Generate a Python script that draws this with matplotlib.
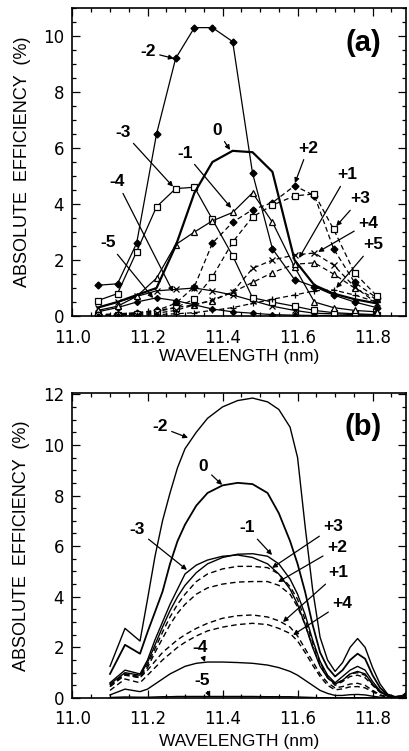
import matplotlib
matplotlib.use("Agg")
import matplotlib.pyplot as plt
from matplotlib.ticker import MultipleLocator

plt.rcParams['font.family'] = ['DejaVu Sans']

# ---- panel (a): measured efficiencies -------------------------------------
wl_a = [11.067, 11.120, 11.171, 11.224, 11.275, 11.325, 11.373, 11.427,
        11.480, 11.533, 11.592, 11.645, 11.696, 11.752, 11.811]

a_m5 = [0.15, 0.30, 0.50, 0.65, 0.55, 0.40, 0.25, 0.15, 0.10, 0.05, 0.03, 0.02, 0.02, 0.01, 0.01]
a_m4 = [0.30, 0.50, 0.70, 0.90, 0.95, 1.00, 0.90, 0.75, 0.55, 0.35, 0.20, 0.10, 0.08, 0.05, 0.03]
a_m3 = [0.55, 0.80, 2.30, 3.90, 4.55, 4.60, 3.45, 2.15, 0.65, 0.50, 0.35, 0.20, 0.12, 0.08, 0.05]
a_m2 = [1.10, 1.15, 2.60, 6.50, 9.20, 10.30, 10.30, 9.80, 5.10, 2.40, 1.30, 1.05, 0.75, 0.50, 0.30]
a_m1 = [0.20, 0.35, 0.70, 1.35, 2.55, 3.00, 3.40, 3.70, 4.40, 3.35, 1.75, 0.50, 0.30, 0.20, 0.15]
a_0 = [0.30, 0.50, 0.75, 1.00, 2.50, 4.40, 5.50, 5.90, 5.85, 5.15, 2.00, 1.10, 0.80, 0.60, 0.45]
a_p1 = [0.05, 0.08, 0.12, 0.20, 0.30, 0.40, 0.55, 0.85, 1.20, 1.55, 1.85, 1.90, 1.50, 1.00, 0.60]
a_p2 = [0.02, 0.05, 0.10, 0.20, 0.45, 1.05, 2.60, 3.35, 3.80, 4.05, 4.65, 4.30, 2.40, 1.20, 0.65]
a_p3 = [0.03, 0.05, 0.08, 0.15, 0.30, 0.60, 1.40, 2.64, 3.54, 3.96, 4.29, 4.36, 3.10, 1.54, 0.72]
a_p4 = [0.02, 0.03, 0.05, 0.10, 0.20, 0.40, 0.57, 0.86, 1.70, 2.00, 2.18, 2.25, 1.82, 1.04, 0.46]
a_p5 = [0.01, 0.02, 0.03, 0.05, 0.08, 0.12, 0.20, 0.30, 0.45, 0.60, 0.75, 0.90, 0.93, 0.75, 0.50]

# ---- panel (b): calculated efficiencies -----------------------------------
wl_b = [11.10, 11.14, 11.18, 11.20, 11.22, 11.24, 11.26, 11.28, 11.30, 11.33,
        11.36, 11.40, 11.44, 11.48, 11.52, 11.55, 11.58, 11.60, 11.62, 11.64,
        11.66, 11.68, 11.70, 11.72, 11.74, 11.76, 11.78, 11.80, 11.82, 11.84,
        11.86, 11.88, 11.90]

b_m2 = [1.25, 2.75, 2.25, 3.90, 5.60, 7.00, 8.10, 9.10, 9.85, 10.50,
        11.05, 11.50, 11.75, 11.85, 11.70, 11.40, 10.70, 9.50, 6.80, 4.30,
        2.40, 1.50, 1.05, 1.40, 2.00, 2.35, 2.00, 1.20, 0.55, 0.15,
        0.05, 0.10, 0.35]
b_0 = [0.95, 2.10, 1.75, 2.60, 3.40, 4.20, 5.30, 6.20, 6.85, 7.60,
       8.10, 8.40, 8.50, 8.45, 8.10, 7.30, 6.20, 5.30, 4.20, 2.90,
       1.80, 1.20, 0.85, 1.10, 1.50, 1.75, 1.55, 0.90, 0.40, 0.12,
       0.04, 0.08, 0.25]
b_m3 = [0.60, 1.10, 0.95, 1.50, 2.30, 3.00, 3.70, 4.30, 4.90, 5.25,
        5.45, 5.60, 5.65, 5.55, 5.30, 4.90, 4.30, 3.70, 2.90, 2.00,
        1.25, 0.80, 0.55, 0.70, 0.95, 1.05, 0.95, 0.55, 0.25, 0.08,
        0.03, 0.05, 0.15]
b_m1 = [0.55, 1.00, 0.90, 1.40, 2.10, 2.80, 3.45, 4.00, 4.45, 4.95,
        5.30, 5.55, 5.68, 5.70, 5.60, 5.30, 4.70, 4.10, 3.30, 2.30,
        1.45, 0.90, 0.60, 0.85, 1.10, 1.25, 1.10, 0.65, 0.28, 0.08,
        0.03, 0.06, 0.18]
b_p3 = [0.50, 0.95, 0.85, 1.30, 1.95, 2.60, 3.20, 3.70, 4.10, 4.60,
        4.90, 5.10, 5.20, 5.20, 5.15, 4.90, 4.40, 3.90, 3.10, 2.20,
        1.40, 0.85, 0.55, 0.70, 0.95, 1.00, 0.90, 0.55, 0.25, 0.08,
        0.03, 0.05, 0.15]
b_p2 = [0.45, 0.90, 0.80, 1.20, 1.80, 2.35, 2.90, 3.35, 3.70, 4.10,
        4.35, 4.50, 4.58, 4.60, 4.60, 4.45, 4.10, 3.60, 2.90, 2.05,
        1.30, 0.80, 0.50, 0.65, 0.85, 0.90, 0.80, 0.50, 0.22, 0.07,
        0.02, 0.04, 0.12]
b_p1 = [0.45, 0.95, 0.80, 1.10, 1.45, 1.80, 2.05, 2.30, 2.50, 2.75,
        2.95, 3.15, 3.25, 3.28, 3.20, 3.05, 2.80, 2.45, 1.95, 1.45,
        0.95, 0.60, 0.40, 0.45, 0.55, 0.58, 0.50, 0.30, 0.13, 0.04,
        0.02, 0.03, 0.08]
b_p4 = [0.30, 0.75, 0.60, 0.90, 1.20, 1.50, 1.75, 2.00, 2.20, 2.45,
        2.65, 2.80, 2.90, 2.95, 2.90, 2.75, 2.55, 2.25, 1.80, 1.30,
        0.85, 0.50, 0.32, 0.36, 0.44, 0.45, 0.40, 0.25, 0.10, 0.03,
        0.01, 0.02, 0.06]
b_m4 = [0.12, 0.35, 0.25, 0.35, 0.55, 0.75, 0.95, 1.10, 1.25, 1.37,
        1.42, 1.42, 1.40, 1.37, 1.30, 1.20, 1.05, 0.90, 0.70, 0.50,
        0.30, 0.18, 0.10, 0.10, 0.13, 0.14, 0.12, 0.07, 0.03, 0.01,
        0.00, 0.01, 0.02]
b_m5 = [0.02, 0.04, 0.03, 0.03, 0.04, 0.05, 0.05, 0.06, 0.06, 0.06,
        0.06, 0.06, 0.06, 0.06, 0.05, 0.05, 0.05, 0.04, 0.03, 0.02,
        0.01, 0.01, 0.00, 0.00, 0.01, 0.01, 0.01, 0.00, 0.00, 0.00,
        0.00, 0.00, 0.00]

DASH = (0, (4, 2.5))

fig = plt.figure(figsize=(4.10, 7.51), dpi=100)
ax_a = fig.add_axes([0.1768, 0.5792, 0.8134, 0.4101])
ax_b = fig.add_axes([0.1768, 0.0706, 0.8134, 0.4061])


def style_axes(ax, ymax, xpad):
    ax.set_xlim(11.0, 11.889)
    ax.set_ylim(0, ymax)
    ax.xaxis.set_major_locator(MultipleLocator(0.2))
    ax.xaxis.set_minor_locator(MultipleLocator(0.05))
    ax.yaxis.set_major_locator(MultipleLocator(2))
    ax.yaxis.set_minor_locator(MultipleLocator(0.5))
    ax.xaxis.set_major_formatter(plt.FormatStrFormatter('%.1f'))
    ax.tick_params(which='both', direction='in', top=True, right=True,
                   width=0.9, labelsize=12)
    ax.tick_params(which='major', length=6, pad=6)
    ax.tick_params(which='minor', length=3)
    ax.tick_params(axis='x', which='major', pad=9)
    for s in ax.spines.values():
        s.set_linewidth(1.2)
    ax.set_xlabel('WAVELENGTH (nm)', fontsize=12.5, family='Liberation Sans',
                  labelpad=xpad)
    ax.set_ylabel('ABSOLUTE  EFFICIENCY  (%)', fontsize=13,
                  family='Liberation Sans', labelpad=9)


def label(ax, text, xy, xytext):
    ax.annotate(text, xy=xy, xytext=xytext, ha='center', va='center',
                fontsize=12.5, fontweight='bold', family='Liberation Sans',
                arrowprops=dict(arrowstyle='-|>', color='black', lw=0.9,
                                mutation_scale=7, shrinkA=1, shrinkB=0))


# panel (a)
k = dict(color='black', lw=0.9)
ax_a.plot(wl_a, a_m5, marker='D', ms=3, mfc='black', **k)
ax_a.plot(wl_a, a_m4, marker='x', ms=4, mew=0.9, **k)
ax_a.plot(wl_a, a_m3, marker='s', ms=4.5, mfc='white', mew=0.9, **k)
ax_a.plot(wl_a, a_m2, marker='D', ms=3.5, mfc='black', **k)
ax_a.plot(wl_a, a_m1, marker='^', ms=4.5, mfc='white', mew=0.9, **k)
ax_a.plot(wl_a, a_0, color='black', lw=1.6)
ax_a.plot(wl_a, a_p1, marker='^', ms=4.5, mfc='white', mew=0.9, ls=DASH, **k)
ax_a.plot(wl_a, a_p2, marker='D', ms=3.5, mfc='black', ls=DASH, **k)
ax_a.plot(wl_a, a_p3, marker='s', ms=4.5, mfc='white', mew=0.9, ls=DASH, **k)
ax_a.plot(wl_a, a_p4, marker='x', ms=4, mew=0.9, ls=DASH, **k)
ax_a.plot(wl_a, a_p5, marker='+', ms=4.5, mew=0.9, ls=DASH, **k)
style_axes(ax_a, 11.0, 2)

label(ax_a, '-2', (11.27, 9.2), (11.201, 9.43))
label(ax_a, '-3', (11.268, 4.62), (11.135, 6.57))
label(ax_a, '-1', (11.423, 3.86), (11.30, 5.82))
label(ax_a, '-4', (11.268, 0.86), (11.119, 4.79))
label(ax_a, '-5', (11.215, 0.64), (11.095, 2.61))
label(ax_a, '0', (11.42, 5.93), (11.385, 6.64))
label(ax_a, '+2', (11.593, 4.75), (11.628, 6.0))
label(ax_a, '+1', (11.604, 2.07), (11.732, 5.04))
label(ax_a, '+3', (11.703, 3.21), (11.767, 4.18))
label(ax_a, '+4', (11.655, 2.29), (11.788, 3.32))
label(ax_a, '+5', (11.703, 1.0), (11.801, 2.54))
ax_a.text(11.775, 9.75, '(a)', ha='center', va='center', fontsize=21,
          fontweight='bold', family='Liberation Sans')

# panel (b)
kb = dict(color='black', lw=1.0)
ax_b.plot(wl_b, b_m2, **kb)
ax_b.plot(wl_b, b_0, color='black', lw=1.3)
ax_b.plot(wl_b, b_m3, **kb)
ax_b.plot(wl_b, b_m1, **kb)
ax_b.plot(wl_b, b_p3, ls=DASH, **kb)
ax_b.plot(wl_b, b_p2, ls=DASH, **kb)
ax_b.plot(wl_b, b_p1, ls=DASH, **kb)
ax_b.plot(wl_b, b_p4, ls=DASH, **kb)
ax_b.plot(wl_b, b_m4, **kb)
ax_b.plot(wl_b, b_m5, **kb)
style_axes(ax_b, 12.05, 4)

label(ax_b, '-2', (11.308, 10.28), (11.233, 10.71))
label(ax_b, '0', (11.399, 8.42), (11.348, 9.13))
label(ax_b, '-3', (11.305, 5.06), (11.172, 6.64))
label(ax_b, '-1', (11.532, 5.65), (11.465, 6.72))
label(ax_b, '+3', (11.532, 5.14), (11.695, 6.76))
label(ax_b, '+2', (11.548, 4.58), (11.705, 5.93))
label(ax_b, '+1', (11.561, 3.0), (11.708, 4.94))
label(ax_b, '+4', (11.588, 2.49), (11.719, 3.75))
label(ax_b, '-4', (11.353, 1.42), (11.34, 1.98))
label(ax_b, '-5', (11.367, 0.04), (11.345, 0.71))
ax_b.text(11.775, 10.7, '(b)', ha='center', va='center', fontsize=21,
          fontweight='bold', family='Liberation Sans')

fig.savefig('out.png', dpi=100)
